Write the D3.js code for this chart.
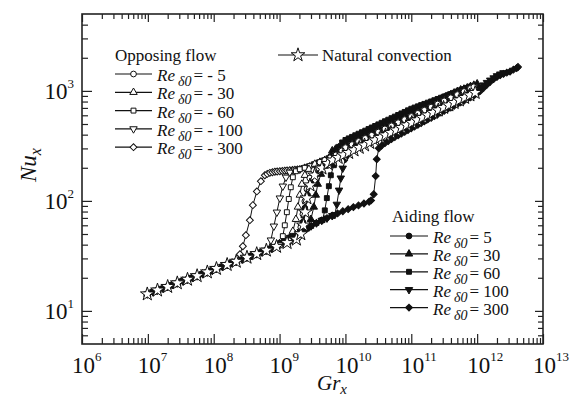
<!DOCTYPE html>
<html>
<head>
<meta charset="utf-8">
<script src="https://cdn.jsdelivr.net/npm/d3@7"></script>
<style>
body { margin: 0; background: #fff; }
svg text { font-family: "Liberation Serif", "Times New Roman", serif; fill: #111; }
</style>
</head>
<body>
<svg id="chart" width="577" height="403"></svg>
<script>
// ---- data: [Gr_x, Nu_x] ----
var xTickExp = [6, 7, 8, 9, 10, 11, 12, 13];
var yTickExp = [1, 2, 3];

// natural convection (open stars)
var natLow = [[9.8e6,14.2],[1.4e7,15.4],[2.0e7,16.6],[2.8e7,17.9],[4.0e7,19.3],[5.6e7,20.8],[8.0e7,22.5],[1.1e8,24.2],
  [1.6e8,26.3],[2.2e8,28.1],[3.2e8,30.6],[4.5e8,33.0],[6.3e8,35.5],[9.0e8,38.4],[1.3e9,41.6],[1.8e9,44.7]];
var natHigh = [[2.1e9,50],[2.3e9,60],[2.45e9,79],[2.6e9,106],[2.9e9,139],[3.4e9,171],[4.4e9,198],[5.4e9,218],[6.4e9,234],
  [7.76e9,247],[9.33e9,261],[1.12e10,274],[1.35e10,289],[1.62e10,305],[1.95e10,321],[2.34e10,338],[2.82e10,356],
  [3.39e10,376],[4.07e10,396],[4.9e10,417],[5.89e10,439],[7.08e10,463],[8.51e10,488],[1.02e11,514],[1.23e11,542],
  [1.48e11,571],[1.78e11,601],[2.14e11,634],[2.57e11,668],[3.09e11,704],[3.72e11,741],[4.47e11,781],[5.37e11,824],
  [6.46e11,868],[7.76e11,914],[9.33e11,963]];

// aiding flow: shared laminar part and lower branch (the filled markers overlap there)
var aidLaminar = [[1.2e7,14.85],[1.7e7,16.0],[2.4e7,17.3],[3.4e7,18.7],[4.8e7,20.1],[6.8e7,21.7],[9.5e7,23.4],
  [1.35e8,25.3],[1.9e8,27.3],[2.7e8,29.5],[3.8e8,31.8],[5.4e8,34.3],[7.6e8,37.0]];
var aidLower = [[1.0e9,41.0],[1.2e9,43.6],[1.45e9,46.4],[1.74e9,49.4],[2.09e9,52.5],[2.51e9,55.7],[3.02e9,59.2],
  [3.63e9,63.0],[4.37e9,66.4],[5.25e9,69.7],[6.31e9,73.3],[7.59e9,76.9],[9.12e9,80.5],[1.1e10,84.1],[1.32e10,87.7],
  [1.58e10,91.0],[1.91e10,94.6],[2.29e10,98.2]];

// jumps of the aiding curves
var aid5Jump = [[2.1e9,53],[2.26e9,64],[2.42e9,86],[2.66e9,113],[2.99e9,145],[3.55e9,179],[4.47e9,204],[5.3e9,235]];
var aid30Jump = [[2.6e9,57],[2.99e9,68],[3.31e9,88],[3.55e9,113],[3.8e9,142],[4.24e9,175],[4.86e9,207],[5.6e9,245]];
var aid60Jump = [[4.5e9,67],[4.86e9,82],[5.22e9,106],[5.6e9,136],[6.0e9,171],[6.67e9,211],[7.3e9,262]];
var aid100Jump = [[6.9e9,75],[7.4e9,93],[8.0e9,125],[8.5e9,161],[9.1e9,198],[1.01e10,243],[1.12e10,272]];
var aid300Jump = [[2.45e10,101],[2.69e10,115],[2.88e10,168],[2.99e10,239],[3.21e10,301]];

// the thick band at high Gr: common Gr grid, one Nu list per aiding curve (null = no point)
var bandGr = [6.31e9,7.08e9,7.94e9,8.91e9,1.0e10,1.12e10,1.26e10,1.41e10,1.58e10,1.78e10,
  2.0e10,2.24e10,2.51e10,2.82e10,3.16e10,3.55e10,3.98e10,4.47e10,5.01e10,5.62e10,
  6.31e10,7.08e10,7.94e10,8.91e10,1.0e11,1.12e11,1.26e11,1.41e11,1.58e11,1.78e11,
  2.0e11,2.24e11,2.51e11,2.82e11,3.16e11,3.55e11,3.98e11,4.47e11,5.01e11,5.62e11,
  6.31e11,7.08e11,7.94e11,8.91e11,1.0e12,1.12e12,1.26e12,1.41e12,1.58e12,1.78e12,
  2.0e12,2.24e12,2.51e12];
var aid5Band = [261,270,279,288,298,308,318,328,339,351,
  362,374,387,399,413,426,441,455,470,486,
  502,519,536,554,572,591,611,631,652,673,
  696,719,743,767,793,819,846,868,894,920,
  947,975,1004,1033,1063];
var aid30Band = [286,296,306,316,326,337,348,360,372,384,
  397,410,424,438,452,467,483,499,515,533,
  550,569,587,607,627,648,669,692,715,738,
  763,788,814,841,869,898,928,959,991,1023,
  1040,1068,1098,1128,1160];
var aid60Band = [null,null,310,340,358,370,382,395,408,421,
  435,450,465,480,496,513,530,547,565,584,
  604,624,644,666,688,706,724,743,762,782,
  802,823,845,867,890,913,937,961,987,1012,
  1039,1065,1093];
var aid100Band = [null,null,null,null,null,null,297,306,317,327,
  338,349,361,373,385,398,411,425,439,453,
  468,484,500,517,534,551,570,589,608,628,
  649,671,693,716,740,765,790,816,843,871,
  900,930,961,993,1030,1080,1130,1190,1250,1310,
  1370,1420,1460];
var aid300Band = [null,null,null,null,null,null,null,null,null,null,
  null,null,null,null,null,318,335,350,365,380,
  394,409,424,440,457,474,492,511,530,550,
  570,591,612,634,658,682,706,731,757,785,
  813,842,872,905,945,1000,1070,1140,1210,1280,
  1340,1390,1430];
var aid300Tail = [[2.82e12,1465],[3.16e12,1500],[3.55e12,1560],[3.98e12,1610],[4.17e12,1650]];

// opposing flow: after the jump all curves run together
var oppMerge = [[2.03e9,194],[2.41e9,200],[2.88e9,207],[3.43e9,216],[4.1e9,225],[4.86e9,234],[5.8e9,246],
  [7.2e9,262],[8.8e9,285]];
var oppUpper = [[1.0e10,305],[1.26e10,325],[1.58e10,347],[2.0e10,370],[2.51e10,395],[3.16e10,422],[3.98e10,451],
  [5.01e10,481],[6.31e10,514],[7.94e10,548],[1.0e11,585],[1.26e11,625],[1.58e11,667],[2.0e11,712],[2.51e11,760],
  [3.16e11,811],[3.98e11,866],[5.01e11,925],[6.31e11,987],[7.94e11,1054],[8.91e11,1089]];

var opp300 = [[2.5e8,32.7],[2.77e8,38.7],[3.08e8,48.8],[3.54e8,66.8],[3.93e8,91.5],[4.52e8,122],[5.2e8,151],
  [5.98e8,171],[6.5e8,176],[7.13e8,180],[7.8e8,182],[8.49e8,184],[9.2e8,185],[1.01e9,186],[1.1e9,187],[1.2e9,188],
  [1.3e9,189],[1.43e9,190],[1.57e9,191],[1.71e9,192],[1.87e9,193]];
var opp100 = [[6.65e8,35.6],[7.38e8,44],[8.19e8,58.9],[9.1e8,78.9],[1.01e9,106],[1.12e9,136],[1.25e9,164],
  [1.43e9,182],[1.71e9,190]];
var opp60 = [[1.01e9,39.5],[1.12e9,47.8],[1.2e9,60],[1.29e9,78.9],[1.38e9,104],[1.48e9,133],[1.59e9,164],[1.77e9,186]];
var opp30 = [[1.43e9,43],[1.59e9,53],[1.77e9,68],[1.9e9,88],[2.03e9,113],[2.18e9,142],[2.42e9,171],[2.79e9,194]];
var opp5 = [[1.9e9,45.8],[2.1e9,57.7],[2.26e9,75.7],[2.42e9,99.3],[2.6e9,128],[2.88e9,161],[3.31e9,190]];

var oppLabels = ["- 5", "- 30", "- 60", "- 100", "- 300"];
var aidLabels = ["5", "30", "60", "100", "300"];

// ---- chart ----
var svg = d3.select("#chart");
var margin = {top: 14, left: 82};
var width = 461, height = 330;

var x = d3.scaleLog().domain([1e6, 1e13]).range([0, width]);
var y = d3.scaleLog().domain([5, 5000]).range([height, 0]);

var g = svg.append("g").attr("transform", "translate(" + margin.left + "," + margin.top + ")");

function minorTicks(lo, hi) {
    var out = [];
    for (var e = Math.floor(Math.log10(lo)); e <= Math.ceil(Math.log10(hi)); e++) {
        for (var k = 2; k <= 9; k++) {
            var v = k * Math.pow(10, e);
            if (v > lo && v < hi) out.push(v);
        }
    }
    return out;
}
var xMajor = xTickExp.map(function(e) { return Math.pow(10, e); });
var yMajor = yTickExp.map(function(e) { return Math.pow(10, e); });
var xMinor = minorTicks(1e6, 1e13);
var yMinor = minorTicks(5, 5000);

function addAxis(axis, transform) {
    var a = g.append("g").attr("transform", transform).call(axis);
    a.select(".domain").remove();
    a.selectAll("line").attr("stroke", "#222").attr("stroke-width", 1.2);
    a.selectAll("text").remove();
}
// ticks point inwards on all four sides
addAxis(d3.axisBottom(x).tickValues(xMajor).tickSize(-10), "translate(0," + height + ")");
addAxis(d3.axisBottom(x).tickValues(xMinor).tickSize(-6), "translate(0," + height + ")");
addAxis(d3.axisTop(x).tickValues(xMajor).tickSize(-8), "translate(0,0)");
addAxis(d3.axisTop(x).tickValues(xMinor).tickSize(-5), "translate(0,0)");
addAxis(d3.axisLeft(y).tickValues(yMajor).tickSize(-10), "translate(0,0)");
addAxis(d3.axisLeft(y).tickValues(yMinor).tickSize(-6), "translate(0,0)");
addAxis(d3.axisRight(y).tickValues(yMajor).tickSize(-8), "translate(" + width + ",0)");
addAxis(d3.axisRight(y).tickValues(yMinor).tickSize(-5), "translate(" + width + ",0)");

g.append("rect")
    .attr("width", width).attr("height", height)
    .attr("fill", "none").attr("stroke", "#222").attr("stroke-width", 1.6);

// tick labels 10^n
xTickExp.forEach(function(e) {
    var t = g.append("text").attr("x", x(Math.pow(10, e)) - 10).attr("y", height + 29);
    t.append("tspan").style("font-size", "23px").text("10");
    t.append("tspan").style("font-size", "13px").attr("dy", -12).text(e);
});
yTickExp.forEach(function(e) {
    var t = g.append("text").attr("x", -8).attr("y", y(Math.pow(10, e)) + 8).attr("text-anchor", "end");
    t.append("tspan").style("font-size", "23px").text("10");
    t.append("tspan").style("font-size", "13px").attr("dy", -11).text(e);
});

// axis titles
var gx = svg.append("text").attr("x", 317).attr("y", 390).style("font-style", "italic");
gx.append("tspan").style("font-size", "21px").text("Gr");
gx.append("tspan").style("font-size", "15px").attr("dy", 4).text("x");

var gy = svg.append("text").attr("transform", "translate(36,182) rotate(-90)").style("font-style", "italic");
gy.append("tspan").style("font-size", "23px").text("Nu");
gy.append("tspan").style("font-size", "16px").attr("dy", 5).text("x");

// ---- series ----
var markers = [
    {type: d3.symbolCircle, size: 26, rot: 0},
    {type: d3.symbolTriangle, size: 24, rot: 0},
    {type: d3.symbolSquare, size: 24, rot: 0},
    {type: d3.symbolTriangle, size: 24, rot: 180},
    {type: d3.symbolSquare, size: 24, rot: 45}
];
var starMarker = {type: d3.symbolStar, size: 58, rot: 0};

var line = d3.line()
    .x(function(d) { return x(d[0]); })
    .y(function(d) { return y(d[1]); });

var plot = g.append("g");

function drawSeries(data, m, filled) {
    plot.append("path")
        .datum(data)
        .attr("d", line)
        .attr("fill", "none")
        .attr("stroke", "#111")
        .attr("stroke-width", 1);
    plot.append("g").selectAll("path")
        .data(data)
        .enter()
        .append("path")
        .attr("d", d3.symbol().type(m.type).size(m.size))
        .attr("transform", function(d) {
            return "translate(" + x(d[0]) + "," + y(d[1]) + ") rotate(" + m.rot + ")";
        })
        .attr("fill", filled ? "#111" : "#fff")
        .attr("stroke", "#111")
        .attr("stroke-width", 1);
}

function below(arr, cut) {
    return arr.filter(function(d) { return d[0] < cut; });
}
function from(arr, cut) {
    return arr.filter(function(d) { return d[0] >= cut; });
}
function band(nu) {
    var out = [];
    nu.forEach(function(v, i) { if (v !== null) out.push([bandGr[i], v]); });
    return out;
}

var aiding = [
    aidLaminar.concat(below(aidLower, 2.0e9), aid5Jump, band(aid5Band)),
    aidLaminar.concat(below(aidLower, 2.6e9), aid30Jump, band(aid30Band)),
    aidLaminar.concat(below(aidLower, 4.4e9), aid60Jump, band(aid60Band)),
    aidLaminar.concat(below(aidLower, 6.9e9), aid100Jump, band(aid100Band)),
    aidLaminar.concat(aidLower, aid300Jump, band(aid300Band), aid300Tail)
];
var opposing = [
    below(natLow, 1.85e9).concat(opp5, from(oppMerge, 4.1e9), oppUpper),
    below(natLow, 1.4e9).concat(opp30, from(oppMerge, 3.43e9), oppUpper),
    below(natLow, 1.0e9).concat(opp60, oppMerge, oppUpper),
    below(natLow, 6.6e8).concat(opp100, oppMerge, oppUpper),
    below(natLow, 2.4e8).concat(opp300, oppMerge, oppUpper)
];

for (var i = aiding.length - 1; i >= 0; i--) drawSeries(aiding[i], markers[i], true);
for (var j = opposing.length - 1; j >= 0; j--) drawSeries(opposing[j], markers[j], false);
drawSeries(natLow.concat(natHigh), starMarker, false);

// ---- legends ----
function legendRow(x0, yRow, m, filled, lab, len) {
    svg.append("line")
        .attr("x1", x0).attr("x2", x0 + len)
        .attr("y1", yRow).attr("y2", yRow)
        .attr("stroke", "#111").attr("stroke-width", 1.2);
    svg.append("path")
        .attr("d", d3.symbol().type(m.type).size(m.size))
        .attr("transform", "translate(" + (x0 + len / 2) + "," + yRow + ") rotate(" + m.rot + ")")
        .attr("fill", filled ? "#111" : "#fff")
        .attr("stroke", "#111");
    if (lab === null) return;
    var t = svg.append("text").attr("x", x0 + len + 5).attr("y", yRow + 7).style("font-size", "17px");
    t.append("tspan").style("font-style", "italic").text("Re");
    t.append("tspan").style("font-style", "italic").style("font-size", "14px")
        .attr("dx", 3).attr("dy", 5).text("\u03b40");
    t.append("tspan").attr("dx", 2).attr("dy", -5).text("= " + lab);
}

svg.append("text").attr("x", 115).attr("y", 61).style("font-size", "17px").text("Opposing flow");
oppLabels.forEach(function(l, i) { legendRow(115, 74 + 18.3 * i, markers[i], false, l, 37); });

svg.append("text").attr("x", 392).attr("y", 222).style("font-size", "17px").text("Aiding flow");
aidLabels.forEach(function(l, i) { legendRow(390, 236 + 17.9 * i, markers[i], true, l, 38); });

legendRow(278, 55, starMarker, false, null, 40);
svg.append("text").attr("x", 322).attr("y", 61).style("font-size", "17px").text("Natural convection");
</script>
</body>
</html>
